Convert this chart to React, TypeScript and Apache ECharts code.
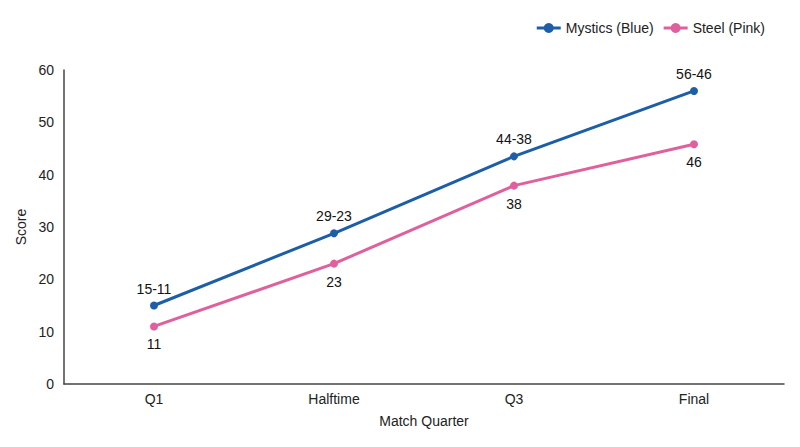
import React, { useEffect, useRef } from "react";
import * as echarts from "echarts";

const categories = ["Q1", "Halftime", "Q3", "Final"];
const mysticsScores = [15, 28.8, 43.5, 56];
const steelScores = [11, 23, 37.9, 45.8];
const mysticsLabels = ["15-11", "29-23", "44-38", "56-46"];
const steelLabels = ["11", "23", "38", "46"];
const yTicks = { min: 0, max: 60, interval: 10 };

const BLUE = "#1d5ea8";
const PINK = "#e0609e";
const FONT = "Liberation Sans, Arial, Helvetica, sans-serif";
const LEGEND_ICON = "path://M0,3.5H24V6.5H0Z M12,0A5,5 0 1 1 11.99,0Z";

export default function App() {
  const ref = useRef<HTMLDivElement>(null);
  useEffect(() => {
    if (!ref.current) return;
    const chart = echarts.init(ref.current, null, { renderer: "svg" });
    chart.setOption({
      animation: false,
      textStyle: { fontFamily: FONT },
      legend: {
        top: 16,
        right: 30,
        itemWidth: 24,
        itemHeight: 10,
        itemGap: 10,
        icon: LEGEND_ICON,
        textStyle: { fontSize: 14, color: "#222", fontFamily: FONT },
        data: ["Mystics (Blue)", "Steel (Pink)"],
      },
      grid: { left: 64, right: 16, top: 70, bottom: 63 },
      xAxis: {
        type: "category",
        data: categories,
        name: "Match Quarter",
        nameLocation: "middle",
        nameGap: 30,
        nameTextStyle: { fontSize: 14, color: "#222" },
        axisLine: { lineStyle: { color: "#444", width: 1.5 } },
        axisTick: { show: false },
        axisLabel: { fontSize: 14, color: "#222", margin: 8 },
      },
      yAxis: {
        type: "value",
        min: yTicks.min,
        max: yTicks.max,
        interval: yTicks.interval,
        name: "Score",
        nameLocation: "middle",
        nameGap: 31,
        nameTextStyle: { fontSize: 14, color: "#222" },
        axisLine: { show: true, lineStyle: { color: "#444", width: 1.5 } },
        axisTick: { show: false },
        splitLine: { show: false },
        axisLabel: { fontSize: 14, color: "#222", margin: 10 },
      },
      series: [
        {
          name: "Mystics (Blue)",
          type: "line",
          data: mysticsScores,
          symbol: "circle",
          symbolSize: 8,
          color: BLUE,
          lineStyle: { width: 3, color: BLUE },
          itemStyle: { color: BLUE },
          label: {
            show: true,
            position: "top",
            distance: 6,
            fontSize: 14,
            color: "#111",
            formatter: (p: any) => mysticsLabels[p.dataIndex],
          },
        },
        {
          name: "Steel (Pink)",
          type: "line",
          data: steelScores,
          symbol: "circle",
          symbolSize: 8,
          color: PINK,
          lineStyle: { width: 3, color: PINK },
          itemStyle: { color: PINK },
          label: {
            show: true,
            position: "bottom",
            distance: 7,
            fontSize: 14,
            color: "#111",
            formatter: (p: any) => steelLabels[p.dataIndex],
          },
        },
      ],
    });
    return () => chart.dispose();
  }, []);
  return (
    <div
      ref={ref}
      style={{ position: "fixed", left: 0, top: 0, width: 800, height: 447, background: "#fff" }}
    />
  );
}
